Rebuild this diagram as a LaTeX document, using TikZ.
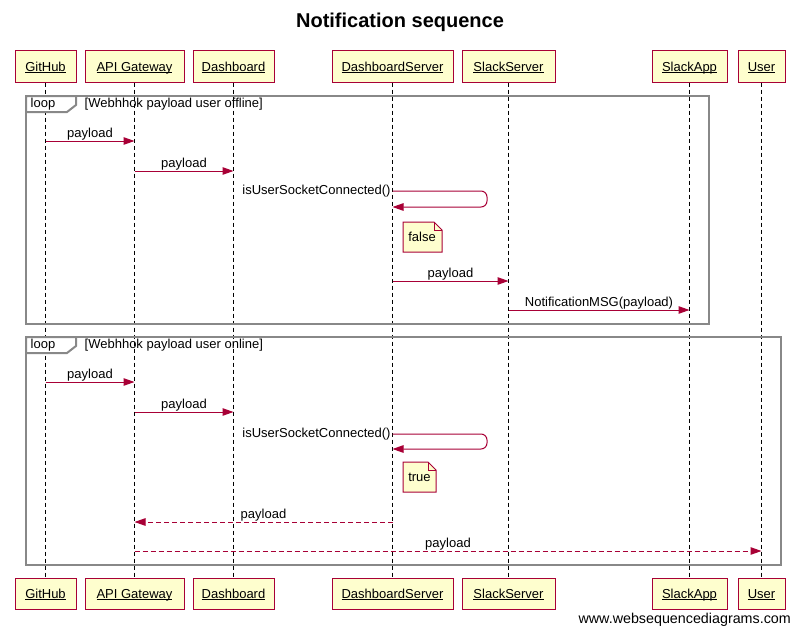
\documentclass[tikz,border=0pt]{standalone}
\usepackage{fontspec}
\setmainfont{Liberation Sans}
\usetikzlibrary{arrows.meta,positioning,calc}
\definecolor{actorred}{RGB}{168,0,54}
\definecolor{actoryellow}{RGB}{254,254,206}
\definecolor{framegray}{RGB}{136,136,136}

% underlined participant name, same underline depth for every name
\newcommand{\uname}[1]{\setbox0\hbox{#1}\rlap{\rule[-1.6pt]{\wd0}{0.8pt}}\box0}

\tikzset{
  actor/.style={draw=actorred, fill=actoryellow, line width=1pt, minimum height=31pt,
    inner xsep=0pt, text height=11.5pt, text depth=2.5pt, font=\fontsize{13}{15}\selectfont},
  lifeline/.style={black, line width=0.9pt, dash pattern=on 4pt off 3pt},
  msg/.style={actorred, line width=1pt, -{Triangle[length=11pt,width=7.5pt]}},
  reply/.style={msg, dash pattern=on 5pt off 3pt},
  lbl/.style={black, font=\fontsize{13}{15}\selectfont, inner sep=1.5pt},
  loopframe/.style={draw=framegray, line width=2pt},
  notebox/.style={draw=actorred, fill=actoryellow, line width=1pt},
}

\begin{document}
\begin{tikzpicture}[x=1pt,y=-1pt]
    \useasboundingbox (0,0) rectangle (800,634);

    % Title
    \node[font=\bfseries\fontsize{20}{24}\selectfont] (title) at (400,22) {Notification sequence};

    % Participants (top)
    \node[actor, minimum width=61pt] (gh) at (45.5,66.5) {\uname{GitHub}};
    \node[actor, minimum width=99pt] (api) at (134.5,66.5) {\uname{API Gateway}};
    \node[actor, minimum width=81pt] (dash) at (233.5,66.5) {\uname{Dashboard}};
    \node[actor, minimum width=121pt] (ds) at (392.5,66.5) {\uname{DashboardServer}};
    \node[actor, minimum width=93pt] (ss) at (508.5,66.5) {\uname{SlackServer}};
    \node[actor, minimum width=75pt] (sa) at (689.5,66.5) {\uname{SlackApp}};
    \node[actor, minimum width=47pt] (usr) at (761.5,66.5) {\uname{User}};

    % Participants (bottom)
    \node[actor, minimum width=61pt] (ghB) at (45.5,593.5) {\uname{GitHub}};
    \node[actor, minimum width=99pt] (apiB) at (134.5,593.5) {\uname{API Gateway}};
    \node[actor, minimum width=81pt] (dashB) at (233.5,593.5) {\uname{Dashboard}};
    \node[actor, minimum width=121pt] (dsB) at (392.5,593.5) {\uname{DashboardServer}};
    \node[actor, minimum width=93pt] (ssB) at (508.5,593.5) {\uname{SlackServer}};
    \node[actor, minimum width=75pt] (saB) at (689.5,593.5) {\uname{SlackApp}};
    \node[actor, minimum width=47pt] (usrB) at (761.5,593.5) {\uname{User}};

    % Lifelines
    \draw[lifeline] (gh.south) -- (ghB.north);
    \draw[lifeline] (api.south) -- (apiB.north);
    \draw[lifeline] (dash.south) -- (dashB.north);
    \draw[lifeline] (ds.south) -- (dsB.north);
    \draw[lifeline] (ss.south) -- (ssB.north);
    \draw[lifeline] (sa.south) -- (saB.north);
    \draw[lifeline] (usr.south) -- (usrB.north);

    % Loop: user offline
    \draw[loopframe] (26,96) rectangle (709,324);
    \draw[loopframe, fill=white] (26,96) -- (76,96) -- (76,105) -- (67,112) -- (26,112) -- cycle;
    \node[lbl] (loopA) at (43,104) {loop};
    \node[lbl, anchor=west] (condA) at (83,104) {[Webhhok payload user offline]};

    \draw[msg] (gh |- 0,141) -- node[lbl, above, inner sep=0.5pt] {payload} (api |- 0,141);
    \draw[msg] (api |- 0,171) -- node[lbl, above, inner sep=0.5pt] {payload} (dash |- 0,171);
    \draw[msg, rounded corners=6pt] (ds |- 0,191) node[lbl, left] {isUserSocketConnected()}
        -- (487,191) -- (487,207) -- (ds |- 0,207);
    \draw[notebox] (403,222) -- (434,222) -- (442,230) -- (442,252) -- (403,252) -- cycle;
    \draw[actorred, line width=0.8pt] (434,222) -- (434,230) -- (442,230);
    \node[lbl] (noteF) at (422,237) {false};
    \draw[msg] (ds |- 0,281) -- node[lbl, above, inner sep=0.5pt] {payload} (ss |- 0,281);
    \draw[msg] (ss |- 0,310) -- node[lbl, above, inner sep=0.5pt] {NotificationMSG(payload)} (sa |- 0,310);

    % Loop: user online
    \draw[loopframe] (26,337) rectangle (781,565);
    \draw[loopframe, fill=white] (26,337) -- (76,337) -- (76,346) -- (67,353) -- (26,353) -- cycle;
    \node[lbl] (loopB) at (43,345) {loop};
    \node[lbl, anchor=west] (condB) at (83,345) {[Webhhok payload user online]};

    \draw[msg] (gh |- 0,382) -- node[lbl, above, inner sep=0.5pt] {payload} (api |- 0,382);
    \draw[msg] (api |- 0,412) -- node[lbl, above, inner sep=0.5pt] {payload} (dash |- 0,412);
    \draw[msg, rounded corners=6pt] (ds |- 0,434) node[lbl, left] {isUserSocketConnected()}
        -- (487,434) -- (487,449) -- (ds |- 0,449);
    \draw[notebox] (403,462) -- (428,462) -- (436,470) -- (436,492) -- (403,492) -- cycle;
    \draw[actorred, line width=0.8pt] (428,462) -- (428,470) -- (436,470);
    \node[lbl] (noteT) at (419.5,477) {true};
    \draw[reply] (ds |- 0,522) -- node[lbl, above, inner sep=0.5pt] {payload} (api |- 0,522);
    \draw[reply] (api |- 0,551) -- node[lbl, above, inner sep=0.5pt] {payload} (usr |- 0,551);

    % Watermark
    \node[anchor=east, font=\fontsize{14.3}{16}\selectfont, inner sep=0pt] (wsd) at (791,620) {www.websequencediagrams.com};
\end{tikzpicture}
\end{document}
